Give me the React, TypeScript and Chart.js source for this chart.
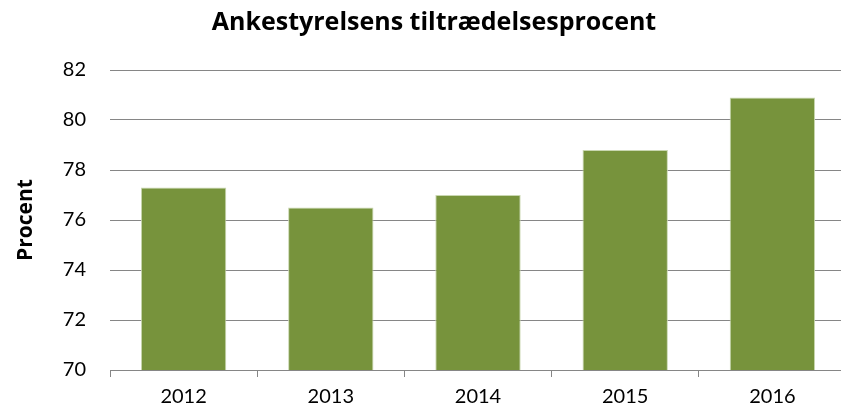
import React, { useEffect, useRef } from "react";
import { Chart, registerables } from "chart.js";

Chart.register(...registerables);

const categories = ["2012", "2013", "2014", "2015", "2016"];
const values = [77.3, 76.5, 77.0, 78.8, 80.9];
const yTicks = [70, 72, 74, 76, 78, 80, 82];
const titleText = "Ankestyrelsens tiltrædelsesprocent";
const yTitle = "Procent";

export default function App() {
  const ref = useRef<HTMLCanvasElement | null>(null);
  useEffect(() => {
    if (!ref.current) return;
    const chart = new Chart(ref.current, {
      type: "bar",
      data: {
        labels: categories,
        datasets: [
          {
            data: values,
            backgroundColor: "#77933C",
            borderColor: "#C9D7B0",
            borderWidth: 1,
            categoryPercentage: 1,
            barPercentage: 0.58,
          },
        ],
      },
      options: {
        animation: false,
        responsive: false,
        maintainAspectRatio: false,
        layout: { padding: { top: 8, right: 22, bottom: 0, left: 22 } },
        plugins: {
          legend: { display: false },
          tooltip: { enabled: false },
          title: {
            display: true,
            text: titleText,
            color: "#000",
            font: { family: "Open Sans", size: 25, weight: "bold" },
            padding: { top: 0, bottom: 32 },
          },
        },
        scales: {
          x: {
            grid: {
              display: true,
              offset: true,
              drawOnChartArea: false,
              drawTicks: true,
              tickLength: 7,
              color: "#868686",
            },
            border: { display: true, color: "#868686", width: 1 },
            ticks: {
              color: "#000",
              font: { family: "Lato", size: 20 },
              padding: 8,
            },
          },
          y: {
            min: 70,
            max: 82,
            afterBuildTicks: (scale: any) => {
              scale.ticks = yTicks.map((v) => ({ value: v }));
            },
            afterFit: (scale: any) => {
              scale.width = 88;
            },
            grid: {
              color: "#868686",
              drawTicks: false,
            },
            border: { display: false },
            ticks: {
              color: "#000",
              font: { family: "Lato", size: 20 },
              padding: 24,
            },
            title: {
              display: true,
              text: yTitle,
              color: "#000",
              font: { family: "Open Sans", size: 21, weight: "bold" },
              padding: { top: -9, bottom: 0 },
            },
          },
        },
      },
    });
    return () => chart.destroy();
  }, []);
  return (
    <div
      style={{
        position: "fixed",
        left: 0,
        top: 0,
        width: 841,
        height: 413,
        overflow: "hidden",
        background: "#fff",
      }}
    >
      <canvas ref={ref} width={868} height={417} style={{ width: 868, height: 417 }} />
    </div>
  );
}
